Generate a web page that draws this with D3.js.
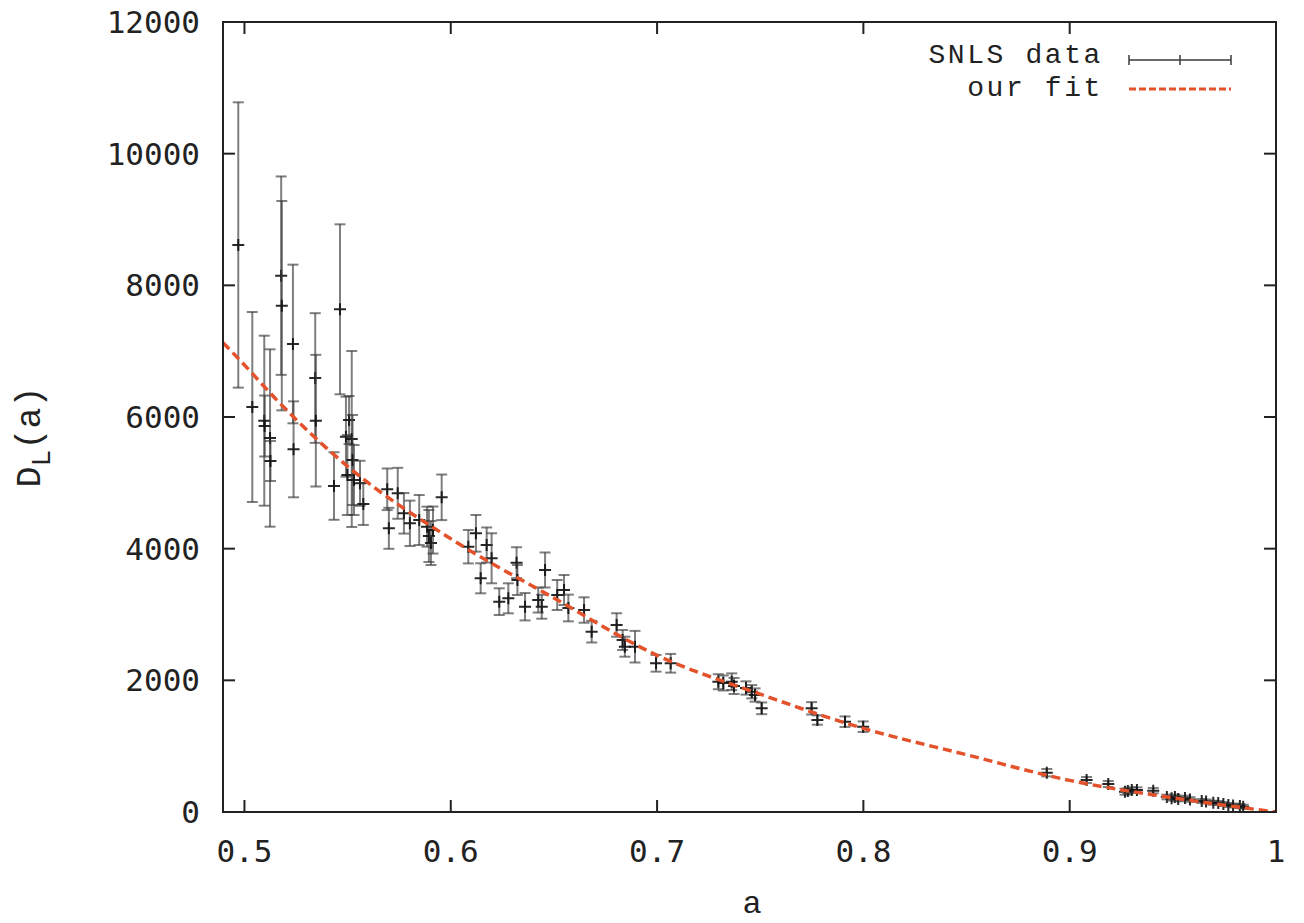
<!DOCTYPE html>
<html>
<head>
<meta charset="utf-8">
<script src="https://cdn.jsdelivr.net/npm/d3@7"></script>
<style>
  body { margin: 0; background: #fff; }
  .tick-label { font-family: "DejaVu Sans Mono", monospace; font-size: 31px; fill: #222; }
  .lbl { font-family: "Liberation Mono", "Courier New", monospace; font-size: 32px; fill: #222; }
  .leg { font-family: "Liberation Mono", "Courier New", monospace; font-size: 28px; letter-spacing: 2.6px; fill: #222; }
</style>
</head>
<body>
<div id="chart"></div>
<script>

// SNLS luminosity distance vs scale factor

// data
const snA = [0.4970, 0.5038, 0.5096, 0.5098, 0.5124, 0.5126, 0.5178, 0.5181, 0.5235, 0.5238,
  0.5343, 0.5346, 0.5434, 0.5463, 0.5492, 0.5499, 0.5507, 0.5520, 0.5524, 0.5531,
  0.5560, 0.5576, 0.5692, 0.5700, 0.5743, 0.5773, 0.5802, 0.5847, 0.5885, 0.5894,
  0.5904, 0.5914, 0.5956, 0.6085, 0.6122, 0.6145, 0.6174, 0.6198, 0.6235, 0.6279,
  0.6319, 0.6323, 0.6360, 0.6424, 0.6441, 0.6457, 0.6516, 0.6549, 0.6570, 0.6646,
  0.6683, 0.6804, 0.6833, 0.6844, 0.6893, 0.6995, 0.7066, 0.7297, 0.7321, 0.7362,
  0.7373, 0.7431, 0.7459, 0.7475, 0.7507, 0.7749, 0.7777, 0.7911, 0.7999,
  0.8889, 0.9082, 0.9187, 0.9268, 0.9282, 0.9301, 0.9326, 0.9405, 0.9471, 0.9494,
  0.9510, 0.9526, 0.9559, 0.9583, 0.9640, 0.9661, 0.9696, 0.9720, 0.9745, 0.9769,
  0.9792, 0.9825, 0.9841];

const snDL = [8613, 6152, 5944, 5863, 5681, 5332, 8147, 7691, 7109, 5509,
  6592, 5944, 4952, 7636, 5701, 5119, 5954, 5666, 5347, 5043,
  4993, 4679, 4902, 4309, 4841, 4537, 4385, 4435, 4334, 4192,
  4086, 4283, 4780, 4030, 4233, 3550, 4056, 3854, 3195, 3246,
  3787, 3524, 3118, 3220, 3118, 3676, 3296, 3372, 3099, 3068,
  2739, 2841, 2613, 2511, 2511, 2259, 2259, 1979, 1960, 1979,
  1914, 1884, 1827, 1777, 1575, 1575, 1397, 1372, 1296,
  597, 486, 425, 309, 319, 334, 334, 324, 228, 208,
  228, 197, 213, 190, 167, 160, 141, 137, 122, 106,
  99, 91, 81];

const snErr = [2167, 1443, 1291, 463, 1347, 304, 1507, 1590, 1205, 729,
  985, 1000, 513, 1291, 608, 608, 365, 1337, 684, 532,
  342, 319, 316, 311, 387, 308, 345, 380, 304, 395,
  334, 357, 346, 254, 278, 228, 266, 380, 203, 228,
  235, 228, 208, 190, 182, 266, 228, 228, 203, 193,
  164, 178, 152, 152, 240, 127, 142, 114, 114, 127,
  122, 101, 101, 101, 89, 94, 71, 80, 80,
  56, 46, 46, 46, 40, 40, 40, 40, 35, 35,
  35, 35, 35, 35, 30, 30, 30, 30, 30, 30,
  30, 30, 30];

// fit curve
const fitA = [0.4896, 0.5, 0.5156, 0.55, 0.6, 0.65, 0.7, 0.75, 0.8, 0.85, 0.9, 0.95, 1.0];
const fitDL = [7130, 6790, 6260, 5250, 4150, 3250, 2380, 1790, 1270, 870, 480, 215, 0];

const xTicks = [0.5, 0.6, 0.7, 0.8, 0.9, 1.0];
const xTickLabels = ["0.5", "0.6", "0.7", "0.8", "0.9", "1"];
const yTicks = [0, 2000, 4000, 6000, 8000, 10000, 12000];

const legendNames = ["SNLS data", "our fit"];

// sizes
const width = 1304, height = 923;
const plot = { left: 223, right: 1276, top: 22, bottom: 812 };

const svg = d3.select("#chart").append("svg")
  .attr("width", width)
  .attr("height", height);

const x = d3.scaleLinear().domain([0.4896, 1.0]).range([plot.left, plot.right]);
const y = d3.scaleLinear().domain([0, 12000]).range([plot.bottom, plot.top]);

svg.append("clipPath").attr("id", "clip")
  .append("rect")
  .attr("x", plot.left).attr("y", plot.top)
  .attr("width", plot.right - plot.left).attr("height", plot.bottom - plot.top);

// ticks, inward and mirrored
const tickLen = 12;
const axisG = svg.append("g").attr("stroke", "#222").attr("stroke-width", 2);

xTicks.forEach(t => {
  axisG.append("line").attr("x1", x(t)).attr("x2", x(t))
    .attr("y1", plot.bottom).attr("y2", plot.bottom - tickLen);
  axisG.append("line").attr("x1", x(t)).attr("x2", x(t))
    .attr("y1", plot.top).attr("y2", plot.top + tickLen);
});
yTicks.forEach(t => {
  axisG.append("line").attr("x1", plot.left).attr("x2", plot.left + tickLen)
    .attr("y1", y(t)).attr("y2", y(t));
  axisG.append("line").attr("x1", plot.right).attr("x2", plot.right - tickLen)
    .attr("y1", y(t)).attr("y2", y(t));
});

svg.selectAll(".xlab").data(xTicks).enter()
  .append("text")
  .attr("class", "tick-label xlab")
  .attr("x", d => x(d))
  .attr("y", 862)
  .attr("text-anchor", "middle")
  .text((d, i) => xTickLabels[i]);

svg.selectAll(".ylab").data(yTicks).enter()
  .append("text")
  .attr("class", "tick-label ylab")
  .attr("x", 200)
  .attr("y", d => y(d) + 11)
  .attr("text-anchor", "end")
  .text(d => d);

// error bars
const data = snA.map((a, i) => ({ a: a, dl: snDL[i], err: snErr[i] }));
const capW = 5.5;

const gData = svg.append("g").attr("clip-path", "url(#clip)");

const bars = gData.selectAll(".eb").data(data).enter()
  .append("g").attr("class", "eb")
  .attr("stroke", "#3a3a3a")
  .attr("stroke-opacity", 0.65)
  .attr("stroke-width", 2);

bars.append("line")
  .attr("x1", d => x(d.a)).attr("x2", d => x(d.a))
  .attr("y1", d => y(d.dl + d.err)).attr("y2", d => y(d.dl - d.err));
bars.append("line")
  .attr("x1", d => x(d.a) - capW).attr("x2", d => x(d.a) + capW)
  .attr("y1", d => y(d.dl + d.err)).attr("y2", d => y(d.dl + d.err));
bars.append("line")
  .attr("x1", d => x(d.a) - capW).attr("x2", d => x(d.a) + capW)
  .attr("y1", d => y(d.dl - d.err)).attr("y2", d => y(d.dl - d.err));

// plus markers
bars.append("path")
  .attr("d", d => {
    const cx = x(d.a), cy = y(d.dl);
    return `M${cx - 6},${cy}H${cx + 6}M${cx},${cy - 6}V${cy + 6}`;
  })
  .attr("stroke", "#111")
  .attr("stroke-opacity", 0.9);

// fit line
const fitLine = d3.line()
  .x((d, i) => x(fitA[i]))
  .y(d => y(d))
  .curve(d3.curveMonotoneX);

svg.append("path")
  .datum(fitDL)
  .attr("clip-path", "url(#clip)")
  .attr("d", fitLine)
  .attr("fill", "none")
  .attr("stroke", "#e4522c")
  .attr("stroke-width", 3.5)
  .attr("stroke-dasharray", "9,5");

// frame
svg.append("rect")
  .attr("x", plot.left).attr("y", plot.top)
  .attr("width", plot.right - plot.left).attr("height", plot.bottom - plot.top)
  .attr("fill", "none")
  .attr("stroke", "#222")
  .attr("stroke-width", 2);

// legend
const leg = svg.append("g");
leg.append("text").attr("class", "leg")
  .attr("x", 1103).attr("y", 63).attr("text-anchor", "end")
  .text(legendNames[0]);
leg.append("text").attr("class", "leg")
  .attr("x", 1103).attr("y", 96).attr("text-anchor", "end")
  .text(legendNames[1]);

const lg = leg.append("g").attr("stroke", "#3a3a3a").attr("stroke-width", 1.5);
lg.append("line").attr("x1", 1129).attr("x2", 1231).attr("y1", 60).attr("y2", 60);
[1129, 1180, 1231].forEach(px => {
  lg.append("line").attr("x1", px).attr("x2", px).attr("y1", 55).attr("y2", 65);
});

leg.append("line")
  .attr("x1", 1129).attr("x2", 1231).attr("y1", 89).attr("y2", 89)
  .attr("stroke", "#e4522c")
  .attr("stroke-width", 3)
  .attr("stroke-dasharray", "7,3");

// axis titles
svg.append("text").attr("class", "lbl")
  .attr("x", 752).attr("y", 913)
  .attr("text-anchor", "middle")
  .text("a");

const yt = svg.append("text").attr("class", "lbl")
  .attr("font-size", 35)
  .style("font-size", "35px")
  .attr("transform", "translate(40,437) rotate(-90)")
  .attr("text-anchor", "middle");
yt.append("tspan").text("D");
yt.append("tspan").attr("dy", 10).style("font-size", "28px").text("L");
yt.append("tspan").attr("dy", -10).text("(a)");

</script>
</body>
</html>
